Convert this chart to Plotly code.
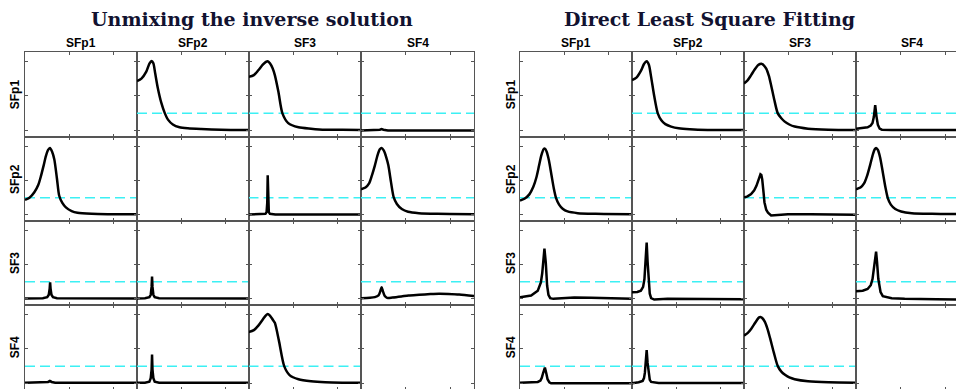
import plotly.graph_objects as go

# ---------------- data ----------------
ROW_LABELS = ["SFp1", "SFp2", "SF3", "SF4"]
COL_LABELS = ["SFp1", "SFp2", "SF3", "SF4"]
TITLES = ["Unmixing the inverse solution", "Direct Least Square Fitting"]
THRESHOLD = 0.5
X_TICKS = [0, 1, 2]
Y_TICKS = [0, 1, 2]

# Unmixing the inverse solution (row, col)
U12_x = [0, 0.1, 0.21, 0.28, 0.33, 0.37, 0.41, 0.47, 0.55, 0.63, 0.70, 0.81, 0.96, 1.15, 1.45, 1.9, 2.52]
U12_y = [1.43, 1.50, 1.70, 1.93, 2.01, 1.94, 1.66, 1.23, 0.80, 0.50, 0.32, 0.18, 0.10, 0.07, 0.05, 0.03, 0.02]
U13_x = [0, 0.12, 0.22, 0.32, 0.39, 0.43, 0.48, 0.54, 0.59, 0.67, 0.76, 0.89, 1.12, 1.4, 1.72, 2.1, 2.52]
U13_y = [1.55, 1.60, 1.74, 1.90, 1.98, 2.00, 1.94, 1.80, 1.60, 1.12, 0.50, 0.22, 0.10, 0.06, 0.03, 0.03, 0.02]
U14_x = [0, 0.35, 0.42, 0.46, 0.50, 0.6, 2.52]
U14_y = [0.01, 0.01, 0.03, 0.05, 0.03, 0.01, 0.01]
U21_x = [0, 0.1, 0.21, 0.30, 0.36, 0.42, 0.47, 0.52, 0.56, 0.61, 0.66, 0.72, 0.77, 0.84, 0.92, 1.05, 1.18, 1.5, 1.86, 2.52]
U21_y = [0.44, 0.50, 0.66, 0.88, 1.14, 1.45, 1.72, 1.90, 1.96, 1.85, 1.62, 1.05, 0.56, 0.35, 0.22, 0.11, 0.06, 0.03, 0.02, 0.02]
U23_x = [0, 0.30, 0.38, 0.405, 0.42, 0.43, 0.44, 0.455, 0.48, 0.6, 2.52]
U23_y = [0.01, 0.01, 0.03, 0.08, 0.35, 1.16, 0.35, 0.08, 0.03, 0.01, 0.01]
U24_x = [0, 0.1, 0.18, 0.24, 0.31, 0.37, 0.42, 0.46, 0.51, 0.56, 0.61, 0.67, 0.73, 0.8, 0.91, 1.05, 1.29, 1.7, 2.52]
U24_y = [0.75, 0.80, 0.92, 1.14, 1.45, 1.75, 1.92, 1.96, 1.88, 1.70, 1.45, 0.95, 0.51, 0.32, 0.17, 0.09, 0.05, 0.03, 0.02]
U31_x = [0, 0.40, 0.50, 0.535, 0.555, 0.565, 0.575, 0.595, 0.63, 0.72, 2.52]
U31_y = [0.01, 0.02, 0.05, 0.12, 0.30, 0.48, 0.30, 0.12, 0.05, 0.02, 0.01]
U32_x = [0, 0.18, 0.28, 0.31, 0.33, 0.34, 0.35, 0.37, 0.40, 0.50, 2.52]
U32_y = [0.01, 0.02, 0.05, 0.12, 0.35, 0.65, 0.35, 0.12, 0.05, 0.02, 0.01]
U34_x = [0, 0.2, 0.31, 0.39, 0.43, 0.46, 0.49, 0.53, 0.58, 0.7, 0.9, 1.06, 1.3, 1.55, 1.74, 1.95, 2.19, 2.52]
U34_y = [0.02, 0.03, 0.05, 0.10, 0.22, 0.34, 0.22, 0.08, 0.03, 0.04, 0.07, 0.10, 0.12, 0.14, 0.15, 0.145, 0.13, 0.08]
U41_x = [0, 0.45, 0.52, 0.56, 0.60, 0.68, 2.52]
U41_y = [0.02, 0.02, 0.04, 0.07, 0.04, 0.02, 0.02]
U42_x = [0, 0.18, 0.28, 0.31, 0.33, 0.34, 0.35, 0.37, 0.40, 0.50, 2.52]
U42_y = [0.02, 0.02, 0.05, 0.15, 0.40, 0.84, 0.40, 0.15, 0.05, 0.02, 0.02]
U43_x = [0, 0.12, 0.22, 0.32, 0.39, 0.43, 0.48, 0.54, 0.59, 0.68, 0.80, 0.92, 1.12, 1.4, 1.72, 2.1, 2.52]
U43_y = [1.49, 1.55, 1.68, 1.86, 1.98, 2.02, 1.97, 1.86, 1.76, 1.25, 0.50, 0.24, 0.12, 0.06, 0.03, 0.02, 0.02]

# Direct Least Square Fitting (row, col)
D12_x = [0, 0.1, 0.2, 0.27, 0.33, 0.38, 0.43, 0.5, 0.58, 0.66, 0.75, 0.88, 1.05, 1.3, 1.7, 2.52]
D12_y = [1.46, 1.53, 1.72, 1.92, 2.00, 1.90, 1.55, 1.00, 0.50, 0.30, 0.19, 0.12, 0.07, 0.04, 0.02, 0.02]
D13_x = [0, 0.08, 0.16, 0.24, 0.31, 0.36, 0.39, 0.44, 0.5, 0.56, 0.61, 0.68, 0.76, 0.84, 0.91, 1.02, 1.14, 1.44, 1.9, 2.52]
D13_y = [1.36, 1.45, 1.60, 1.76, 1.88, 1.92, 1.93, 1.89, 1.79, 1.58, 1.31, 0.90, 0.50, 0.36, 0.27, 0.18, 0.12, 0.06, 0.03, 0.02]
D14_x = [0, 0.15, 0.26, 0.33, 0.37, 0.40, 0.43, 0.46, 0.49, 0.53, 0.58, 0.8, 2.52]
D14_y = [0.06, 0.08, 0.10, 0.15, 0.22, 0.40, 0.74, 0.40, 0.17, 0.06, 0.03, 0.02, 0.02]
D21_x = [0, 0.1, 0.21, 0.30, 0.37, 0.43, 0.48, 0.53, 0.56, 0.60, 0.65, 0.71, 0.76, 0.81, 0.88, 0.96, 1.07, 1.3, 1.7, 2.52]
D21_y = [0.42, 0.47, 0.60, 0.82, 1.10, 1.45, 1.74, 1.92, 1.94, 1.85, 1.60, 1.15, 0.78, 0.50, 0.30, 0.18, 0.10, 0.05, 0.03, 0.02]
D23_x = [0, 0.08, 0.16, 0.23, 0.28, 0.33, 0.37, 0.39, 0.41, 0.44, 0.46, 0.50, 0.54, 0.61, 0.75, 0.99, 1.5, 2.0, 2.52]
D23_y = [0.51, 0.54, 0.61, 0.72, 0.85, 1.02, 1.19, 1.17, 1.04, 0.65, 0.37, 0.15, 0.06, -0.02, 0.0, 0.02, 0.02, 0.01, 0.0]
D24_x = [0, 0.1, 0.18, 0.25, 0.32, 0.38, 0.42, 0.45, 0.49, 0.54, 0.60, 0.66, 0.71, 0.78, 0.88, 1.01, 1.25, 1.7, 2.52]
D24_y = [0.75, 0.80, 0.92, 1.15, 1.48, 1.78, 1.92, 1.96, 1.90, 1.68, 1.25, 0.80, 0.50, 0.30, 0.17, 0.10, 0.05, 0.03, 0.02]
D31_x = [0, 0.25, 0.40, 0.47, 0.50, 0.52, 0.55, 0.58, 0.61, 0.64, 0.68, 0.75, 1.0, 1.22, 1.6, 2.0, 2.52]
D31_y = [0.05, 0.10, 0.24, 0.48, 0.75, 1.06, 1.47, 1.06, 0.39, 0.12, 0.02, 0.0, 0.03, 0.04, 0.03, 0.01, 0.0]
D32_x = [0, 0.12, 0.2, 0.25, 0.28, 0.31, 0.33, 0.35, 0.37, 0.40, 0.43, 0.5, 0.8, 1.5, 2.52]
D32_y = [0.19, 0.20, 0.24, 0.35, 0.58, 1.10, 1.65, 1.10, 0.58, 0.15, 0.02, -0.02, 0.0, 0.0, -0.01]
D34_x = [0, 0.15, 0.26, 0.33, 0.37, 0.41, 0.43, 0.45, 0.47, 0.50, 0.55, 0.6, 0.8, 1.09, 1.8, 2.52]
D34_y = [0.22, 0.24, 0.29, 0.40, 0.58, 0.95, 1.20, 1.38, 1.10, 0.58, 0.20, 0.08, 0.02, 0.0, -0.01, -0.02]
D41_x = [0, 0.25, 0.40, 0.46, 0.49, 0.52, 0.56, 0.59, 0.62, 0.66, 0.70, 2.52]
D41_y = [0.02, 0.03, 0.04, 0.08, 0.16, 0.30, 0.46, 0.30, 0.12, 0.03, 0.0, 0.0]
D42_x = [0, 0.15, 0.24, 0.27, 0.29, 0.31, 0.33, 0.35, 0.37, 0.40, 0.43, 0.6, 2.52]
D42_y = [0.0, 0.03, 0.07, 0.15, 0.31, 0.60, 0.97, 0.60, 0.31, 0.10, 0.04, 0.01, 0.01]
D43_x = [0, 0.08, 0.16, 0.24, 0.30, 0.34, 0.37, 0.41, 0.47, 0.53, 0.59, 0.67, 0.76, 0.84, 0.93, 1.02, 1.14, 1.44, 1.9, 2.52]
D43_y = [1.39, 1.46, 1.58, 1.74, 1.86, 1.92, 1.93, 1.90, 1.79, 1.58, 1.30, 0.90, 0.50, 0.34, 0.24, 0.17, 0.12, 0.06, 0.03, 0.02]

UNMIX = {(0, 1): (U12_x, U12_y, "spline"), (0, 2): (U13_x, U13_y, "spline"), (0, 3): (U14_x, U14_y, "linear"),
         (1, 0): (U21_x, U21_y, "spline"), (1, 2): (U23_x, U23_y, "linear"), (1, 3): (U24_x, U24_y, "spline"),
         (2, 0): (U31_x, U31_y, "linear"), (2, 1): (U32_x, U32_y, "linear"), (2, 3): (U34_x, U34_y, "spline"),
         (3, 0): (U41_x, U41_y, "linear"), (3, 1): (U42_x, U42_y, "linear"), (3, 2): (U43_x, U43_y, "spline")}
DIRECT = {(0, 1): (D12_x, D12_y, "spline"), (0, 2): (D13_x, D13_y, "spline"), (0, 3): (D14_x, D14_y, "linear"),
          (1, 0): (D21_x, D21_y, "spline"), (1, 2): (D23_x, D23_y, "linear"), (1, 3): (D24_x, D24_y, "spline"),
          (2, 0): (D31_x, D31_y, "linear"), (2, 1): (D32_x, D32_y, "linear"), (2, 3): (D34_x, D34_y, "linear"),
          (3, 0): (D41_x, D41_y, "linear"), (3, 1): (D42_x, D42_y, "linear"), (3, 2): (D43_x, D43_y, "spline")}

# ---------------- layout (pixels) ----------------
W, H = 964, 389
GRID_X = [[17, 129, 240.5, 353, 466], [512, 624, 736, 848, 960.5]]
GRID_Y = [43.5, 129, 213, 297, 381.5]
X_RANGE = [0, 2.52]
Y_RANGE = [-0.18, 2.28]
TITLE_X = [244, 701]
ROW_LABEL_X = [7, 503]

fig = go.Figure()
layout = dict(width=W, height=H, margin=dict(l=0, r=0, t=0, b=0),
              paper_bgcolor="white", plot_bgcolor="white", showlegend=False)

annotations = []
idx = 0
for g, data in enumerate([UNMIX, DIRECT]):
    xe = GRID_X[g]
    for r in range(4):
        for c in range(4):
            idx += 1
            xn = "x" if idx == 1 else f"x{idx}"
            yn = "y" if idx == 1 else f"y{idx}"
            axcommon = dict(showgrid=False, zeroline=False, showticklabels=False,
                            ticks="inside", ticklen=3, tickcolor="#555", tickwidth=1,
                            showline=True, linecolor="#555", linewidth=1, mirror="ticks",
                            fixedrange=True)
            layout["xaxis" if idx == 1 else f"xaxis{idx}"] = dict(
                domain=[xe[c] / W, xe[c + 1] / W], anchor=yn, range=X_RANGE,
                tickvals=X_TICKS, **axcommon)
            layout["yaxis" if idx == 1 else f"yaxis{idx}"] = dict(
                domain=[1 - GRID_Y[r + 1] / H, 1 - GRID_Y[r] / H], anchor=xn, range=Y_RANGE,
                tickvals=Y_TICKS, **axcommon)
            if (r, c) in data:
                xs, ys, shape = data[(r, c)]
                fig.add_trace(go.Scatter(x=[X_RANGE[0], X_RANGE[1]], y=[THRESHOLD, THRESHOLD],
                                         mode="lines", xaxis=xn, yaxis=yn, hoverinfo="skip",
                                         line=dict(color="#3cf0f4", width=1.5, dash="10px,5px")))
                fig.add_trace(go.Scatter(x=xs, y=ys, mode="lines", xaxis=xn, yaxis=yn,
                                         line=dict(color="black", width=2.5, shape=shape,
                                                   smoothing=0.7 if shape == "spline" else None)))
            else:
                # empty diagonal panel: invisible placeholder so the frame is drawn
                fig.add_trace(go.Scatter(x=[X_RANGE[0]], y=[THRESHOLD], mode="markers",
                                         xaxis=xn, yaxis=yn, hoverinfo="skip",
                                         marker=dict(opacity=0, size=1)))
    # column labels
    for c in range(4):
        annotations.append(dict(text=f"<b>{COL_LABELS[c]}</b>", x=(xe[c] + xe[c + 1]) / 2 / W,
                                y=1 - 35 / H, xref="paper", yref="paper", showarrow=False,
                                font=dict(family="Liberation Sans, Arial", size=12, color="black"),
                                xanchor="center", yanchor="middle"))
    for r in range(4):
        annotations.append(dict(text=f"<b>{ROW_LABELS[r]}</b>", x=ROW_LABEL_X[g] / W,
                                y=1 - (GRID_Y[r] + GRID_Y[r + 1]) / 2 / H, xref="paper", yref="paper",
                                showarrow=False, textangle=-90,
                                font=dict(family="Liberation Sans, Arial", size=12, color="black"),
                                xanchor="center", yanchor="middle"))
    annotations.append(dict(text=f"<b>{TITLES[g]}</b>", x=TITLE_X[g] / W, y=1 - 11 / H,
                            xref="paper", yref="paper", showarrow=False,
                            font=dict(family="DejaVu Serif", size=19, color="#121230"),
                            xanchor="center", yanchor="middle"))

layout["annotations"] = annotations
fig.update_layout(**layout)
fig.write_html("out.html")
